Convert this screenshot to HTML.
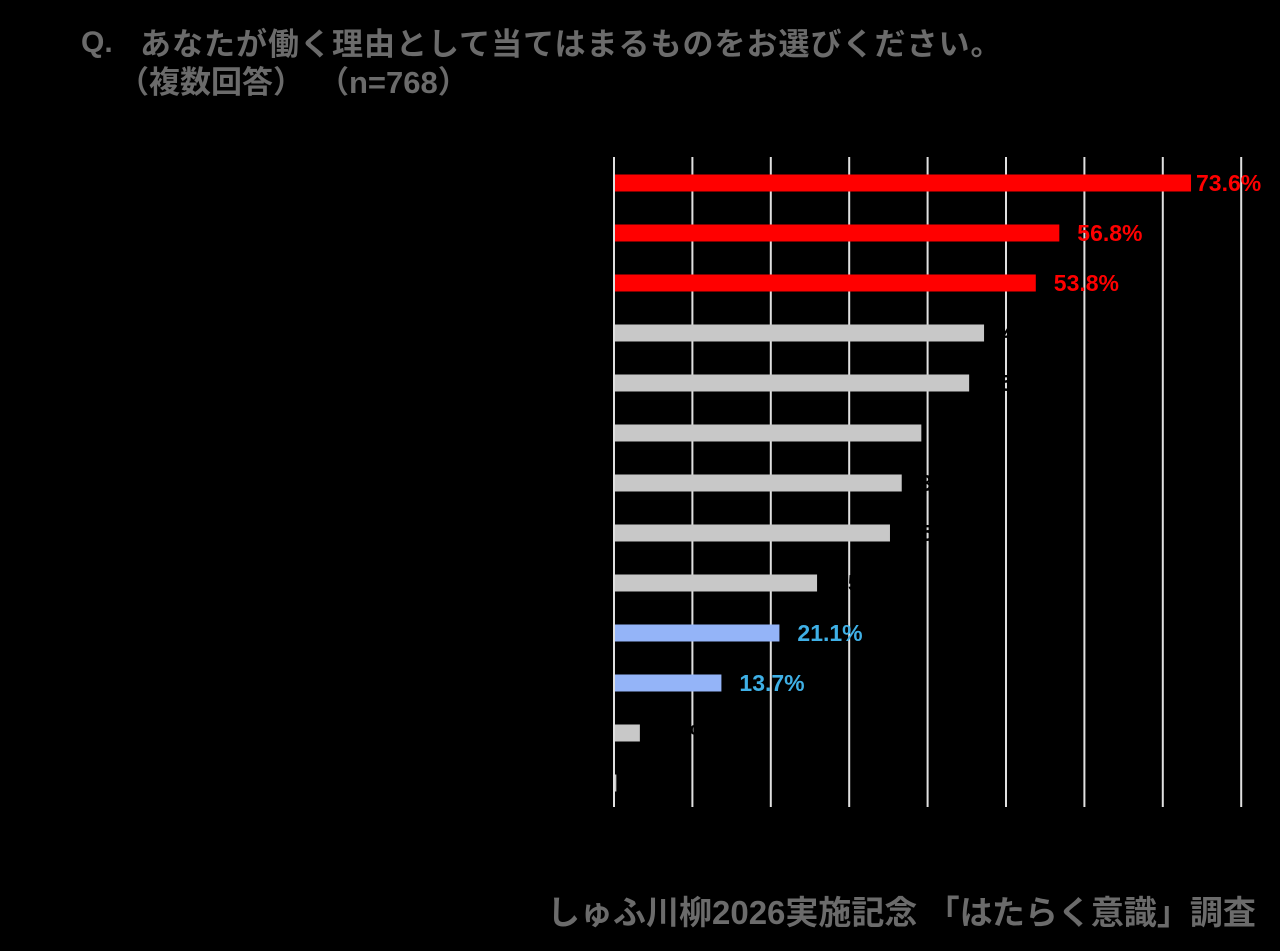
<!DOCTYPE html>
<html><head><meta charset="utf-8"><style>
body{margin:0;background:#000;width:1280px;height:951px;overflow:hidden;position:relative;font-family:"Liberation Sans","Noto Sans CJK JP",sans-serif;}
.t{position:absolute;color:#6b6b6b;font-weight:bold;white-space:nowrap}
</style></head><body>
<div class="t" style="left:81px;top:26px;font-size:30px;">Q.</div>
<div class="t" style="left:140px;top:19px;font-size:31px;letter-spacing:1px;">あなたが働く理由として当てはまるものをお選びください。</div>
<div class="t" style="left:118px;top:57px;font-size:31px;">（複数回答）</div>
<div class="t" style="left:318px;top:57px;font-size:31px;">（n=768）</div>
<svg id="chart" width="1280" height="951" style="position:absolute;left:0;top:0"></svg>
<div class="t" style="left:547px;top:886px;font-size:33px;">しゅふ川柳2026実施記念 「はたらく意識」調査</div>
<script>
const values=[73.6,56.8,53.8,47.2,45.3,39.2,36.7,35.2,25.9,21.1,13.7,3.3,0.3];
const groups=['red','red','red','gray','gray','gray','gray','gray','gray','blue','blue','gray','gray'];
const ticks=[0,10,20,30,40,50,60,70,80];
const colors={red:'#ff0000',gray:'#c8c8c8',blue:'#94b4f8'};
const labelColors={red:'#ff0000',gray:'#000000',blue:'#3fb0e6'};
const svg=document.getElementById('chart');const NS='http://www.w3.org/2000/svg';
const x=v=>614+v*7.84;const y=i=>183+i*50;
ticks.forEach(t=>{const l=document.createElementNS(NS,'line');


l.setAttribute('x1',x(t));l.setAttribute('x2',x(t));l.setAttribute('y1',157);l.setAttribute('y2',807);
l.setAttribute('stroke','#e0e0e0');l.setAttribute('stroke-width',2);svg.appendChild(l);});
values.forEach((v,i)=>{const r=document.createElementNS(NS,'rect');


r.setAttribute('x',x(0)+1);r.setAttribute('y',y(i)-8.5);r.setAttribute('width',Math.max(1,x(v)-x(0)-1));r.setAttribute('height',17);
r.setAttribute('fill',colors[groups[i]]);svg.appendChild(r);
const tx=document.createElementNS(NS,'text');


tx.setAttribute('x',x(v)+(i==0?5:18));tx.setAttribute('y',y(i)+8);
tx.setAttribute('fill',labelColors[groups[i]]);tx.setAttribute('font-size',23);tx.setAttribute('font-weight','bold');
tx.setAttribute('font-family','Liberation Sans, sans-serif');tx.textContent=v.toFixed(1)+'%';svg.appendChild(tx);});
</script>
</body></html>
